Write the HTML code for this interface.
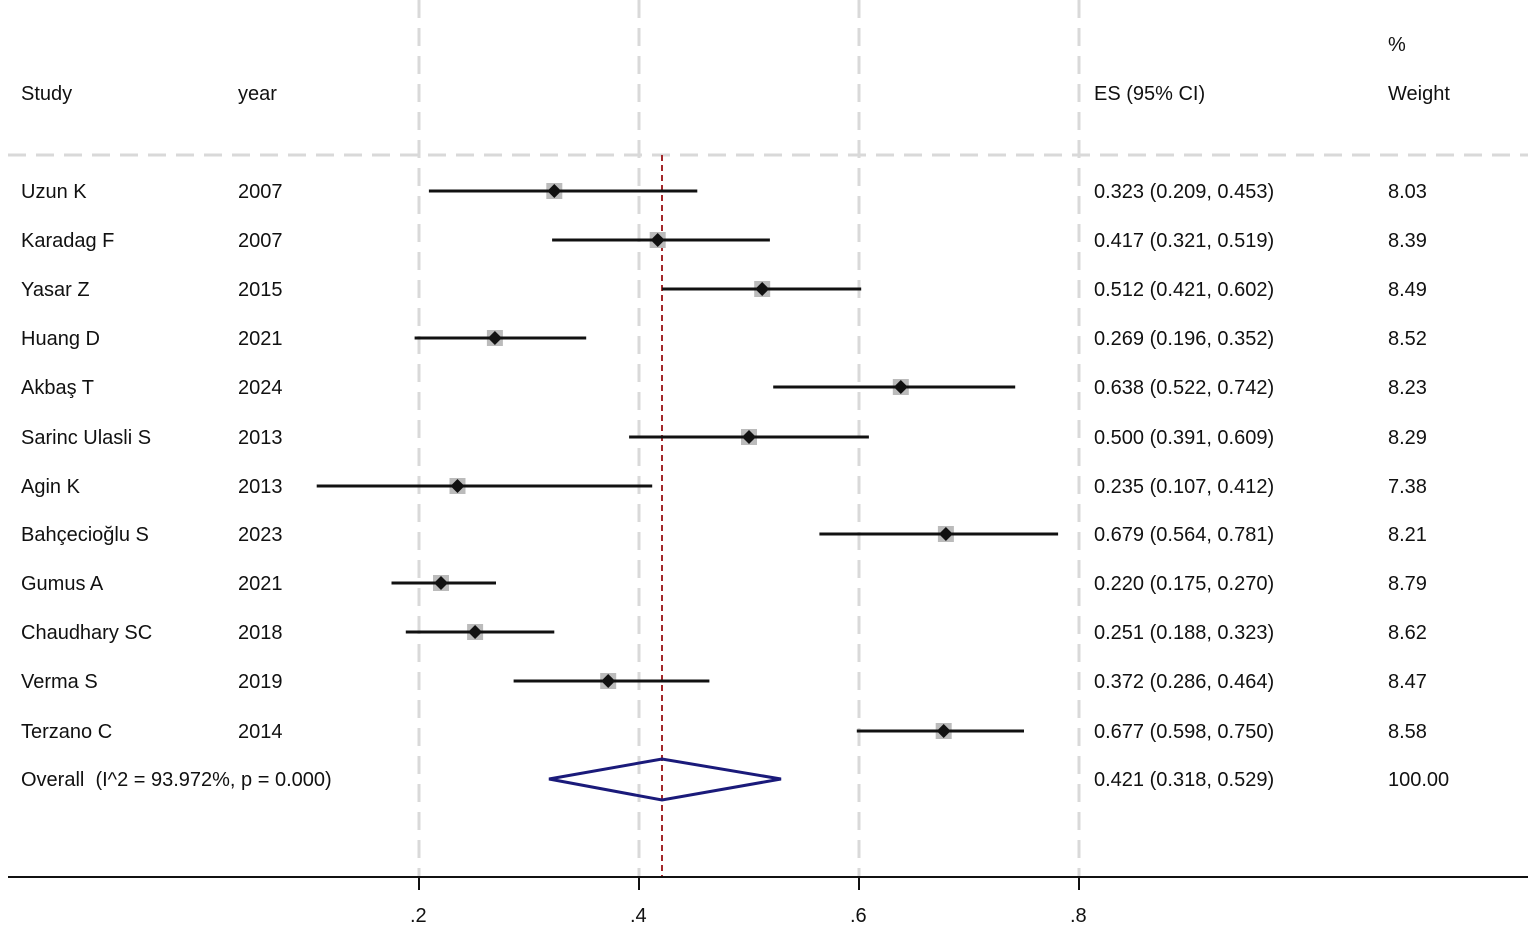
<!DOCTYPE html>
<html><head><meta charset="utf-8"><style>
body{margin:0;background:#fff}
svg text{font-family:"Liberation Sans",Arial,sans-serif;font-size:20px;fill:#111}
</style></head><body>
<svg width="1535" height="927" xmlns="http://www.w3.org/2000/svg">
<g stroke="#d9d9d9" stroke-width="3" stroke-dasharray="18,10">
<line x1="419" y1="0" x2="419" y2="877"/><line x1="639" y1="0" x2="639" y2="877"/>
<line x1="859" y1="0" x2="859" y2="877"/><line x1="1079" y1="0" x2="1079" y2="877"/>
<line x1="8" y1="155" x2="1528" y2="155"/>
</g>
<line x1="662" y1="155" x2="662" y2="877" stroke="#a3282a" stroke-width="2" stroke-dasharray="6,4"/>
<line x1="8" y1="877" x2="1528" y2="877" stroke="#111" stroke-width="2"/>
<g stroke="#111" stroke-width="2"><line x1="419" y1="877" x2="419" y2="890"/><line x1="639" y1="877" x2="639" y2="890"/><line x1="859" y1="877" x2="859" y2="890"/><line x1="1079" y1="877" x2="1079" y2="890"/></g>
<text x="410" y="922">.2</text><text x="630" y="922">.4</text><text x="850" y="922">.6</text><text x="1070" y="922">.8</text>
<text x="1388" y="51">%</text>
<text x="21" y="100">Study</text><text x="238" y="100">year</text><text x="1094" y="100">ES (95% CI)</text><text x="1388" y="100">Weight</text>
<g id="rows"></g>
<polygon points="549,779 662,759 781,779 662,800" fill="none" stroke="#1a1a7a" stroke-width="3"/>
<text x="21" y="786">Overall&#160; (I^2 = 93.972%, p = 0.000)</text>
<text x="1094" y="786">0.421 (0.318, 0.529)</text><text x="1388" y="786">100.00</text>
</svg>
<script>
var d=[["Uzun K",2007,.323,.209,.453,"8.03"],["Karadag F",2007,.417,.321,.519,"8.39"],["Yasar Z",2015,.512,.421,.602,"8.49"],["Huang D",2021,.269,.196,.352,"8.52"],["Akbaş T",2024,.638,.522,.742,"8.23"],["Sarinc Ulasli S",2013,.500,.391,.609,"8.29"],["Agin K",2013,.235,.107,.412,"7.38"],["Bahçecioğlu S",2023,.679,.564,.781,"8.21"],["Gumus A",2021,.220,.175,.270,"8.79"],["Chaudhary SC",2018,.251,.188,.323,"8.62"],["Verma S",2019,.372,.286,.464,"8.47"],["Terzano C",2014,.677,.598,.750,"8.58"]];
var ys=[191,240,289,338,387,437,486,534,583,632,681,731];
function X(v){return 419+(v-.2)*1100}
var s="";
d.forEach(function(r,i){var y=ys[i],x=X(r[2]);
s+='<rect x="'+(x-8)+'" y="'+(y-8)+'" width="16" height="16" fill="#bbb"/>';
s+='<line x1="'+X(r[3])+'" y1="'+y+'" x2="'+X(r[4])+'" y2="'+y+'" stroke="#111" stroke-width="3"/>';
s+='<polygon points="'+(x-7)+','+y+' '+x+','+(y-7)+' '+(x+7)+','+y+' '+x+','+(y+7)+'" fill="#111"/>';
s+='<text x="21" y="'+(y+7)+'">'+r[0]+'</text><text x="238" y="'+(y+7)+'">'+r[1]+'</text>';
s+='<text x="1094" y="'+(y+7)+'">'+r[2].toFixed(3)+' ('+r[3].toFixed(3)+', '+r[4].toFixed(3)+')</text><text x="1388" y="'+(y+7)+'">'+r[5]+'</text>';});
document.getElementById("rows").innerHTML=s;
</script>
</body></html>
